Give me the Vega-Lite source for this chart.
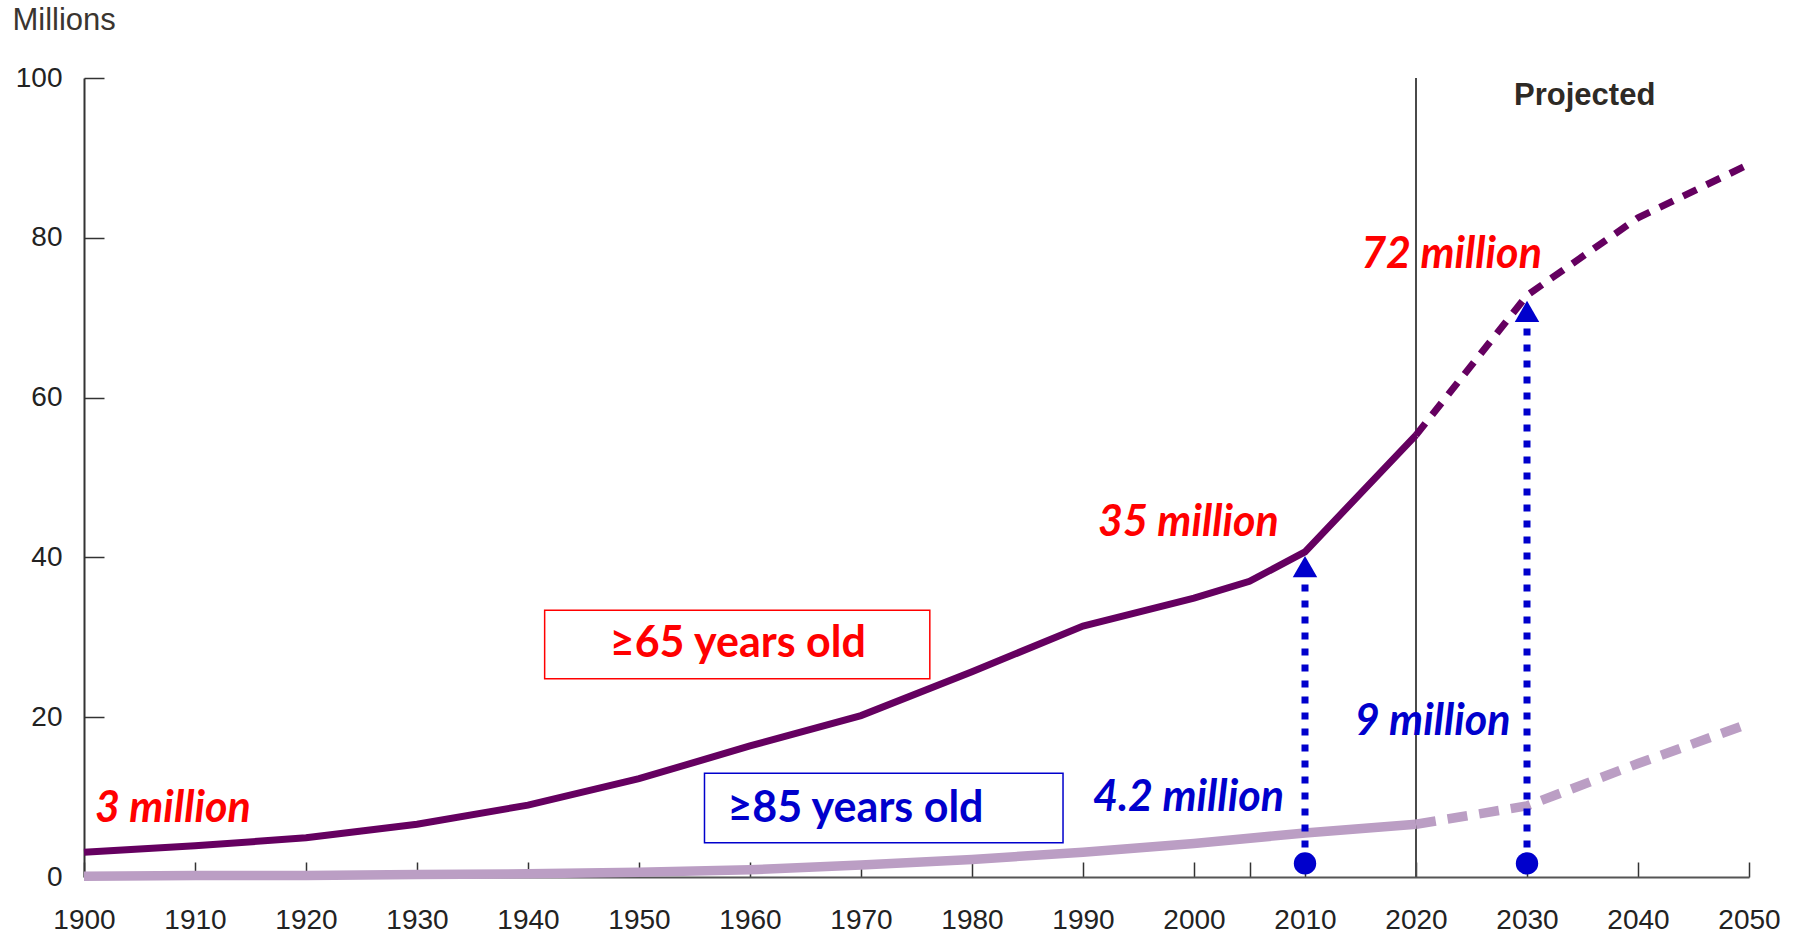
{
  "$schema": "https://vega.github.io/schema/vega-lite/v6.json",
  "width": 1665,
  "height": 799,
  "autosize": {"type": "none"},
  "padding": {"left": 84, "top": 78, "right": 55, "bottom": 57},
  "background": "white",
  "config": {"view": {"stroke": null}},
  "datasets": {
    "pop": [
      {"year": 1900, "age": "65+", "period": "hist", "value": 3.1},
      {"year": 1910, "age": "65+", "period": "hist", "value": 3.9},
      {"year": 1920, "age": "65+", "period": "hist", "value": 4.9},
      {"year": 1930, "age": "65+", "period": "hist", "value": 6.6},
      {"year": 1940, "age": "65+", "period": "hist", "value": 9.0},
      {"year": 1950, "age": "65+", "period": "hist", "value": 12.3},
      {"year": 1960, "age": "65+", "period": "hist", "value": 16.4},
      {"year": 1970, "age": "65+", "period": "hist", "value": 20.2},
      {"year": 1980, "age": "65+", "period": "hist", "value": 25.7},
      {"year": 1990, "age": "65+", "period": "hist", "value": 31.4},
      {"year": 2000, "age": "65+", "period": "hist", "value": 34.9},
      {"year": 2005, "age": "65+", "period": "hist", "value": 37.0},
      {"year": 2010, "age": "65+", "period": "hist", "value": 40.7},
      {"year": 2020, "age": "65+", "period": "hist", "value": 55.3},
      {"year": 2020, "age": "65+", "period": "proj", "value": 55.3},
      {"year": 2030, "age": "65+", "period": "proj", "value": 72.8},
      {"year": 2040, "age": "65+", "period": "proj", "value": 82.5},
      {"year": 2050, "age": "65+", "period": "proj", "value": 89.2},
      {"year": 1900, "age": "85+", "period": "hist", "value": 0.1},
      {"year": 1910, "age": "85+", "period": "hist", "value": 0.2},
      {"year": 1920, "age": "85+", "period": "hist", "value": 0.2},
      {"year": 1930, "age": "85+", "period": "hist", "value": 0.3},
      {"year": 1940, "age": "85+", "period": "hist", "value": 0.4},
      {"year": 1950, "age": "85+", "period": "hist", "value": 0.6},
      {"year": 1960, "age": "85+", "period": "hist", "value": 0.9},
      {"year": 1970, "age": "85+", "period": "hist", "value": 1.5},
      {"year": 1980, "age": "85+", "period": "hist", "value": 2.2},
      {"year": 1990, "age": "85+", "period": "hist", "value": 3.1},
      {"year": 2000, "age": "85+", "period": "hist", "value": 4.2},
      {"year": 2010, "age": "85+", "period": "hist", "value": 5.5},
      {"year": 2020, "age": "85+", "period": "hist", "value": 6.6},
      {"year": 2020, "age": "85+", "period": "proj", "value": 6.6},
      {"year": 2030, "age": "85+", "period": "proj", "value": 8.9},
      {"year": 2040, "age": "85+", "period": "proj", "value": 14.2},
      {"year": 2050, "age": "85+", "period": "proj", "value": 19.2}
    ],
    "arrows": [
      {"year": 2010, "from": 1.7, "to": 38.0, "head": 38.85},
      {"year": 2030, "from": 1.7, "to": 70.0, "head": 70.8}
    ],
    "boxes": [
      {"x1": 1941.5, "x2": 1976.2, "y1": 24.8, "y2": 33.4, "grp": "red"},
      {"x1": 1955.9, "x2": 1988.2, "y1": 4.3, "y2": 13.0, "grp": "blue"}
    ],
    "italics": [
      {"year": 1908.0, "value": 8.5, "text": "3 million", "grp": "red"},
      {"year": 1999.5, "value": 44.3, "text": "35 million", "grp": "red"},
      {"year": 2023.2, "value": 77.8, "text": "72 million", "grp": "red"},
      {"year": 1999.5, "value": 9.9, "text": "4.2 million", "grp": "blue"},
      {"year": 2021.5, "value": 19.4, "text": "9 million", "grp": "blue"}
    ],
    "boxlabels": [
      {"year": 1958.9, "value": 29.2, "text": "≥65 years old", "grp": "red"},
      {"year": 1969.5, "value": 8.5, "text": "≥85 years old", "grp": "blue"}
    ],
    "notes": [
      {"year": 2035.2, "value": 97.8, "text": "Projected"}
    ],
    "divider": [
      {"year": 2020, "lo": 0, "hi": 100}
    ]
  },
  "layer": [
    {
      "data": {"name": "divider"},
      "mark": {"type": "rule", "color": "#4a4a4a", "strokeWidth": 2},
      "encoding": {
        "x": {"field": "year", "type": "quantitative", "scale": {"domain": [1900, 2050], "nice": false, "zero": false},
          "axis": {
            "values": [1900, 1910, 1920, 1930, 1940, 1950, 1960, 1970, 1980, 1990, 2000, 2005, 2010, 2020, 2030, 2040, 2050],
            "format": "d",
            "labelExpr": "datum.value == 2005 ? '' : datum.label",
            "title": null,
            "grid": false,
            "tickSize": -15,
            "tickColor": "#333",
            "tickWidth": 1.5,
            "domainColor": "#555",
            "domainWidth": 2,
            "labelFont": "Liberation Sans",
            "labelFontSize": 28,
            "labelColor": "#222",
            "labelPadding": 44,
            "labelFlush": false,
            "labelOverlap": false
          }},
        "y": {"field": "lo", "type": "quantitative", "scale": {"domain": [0, 100], "nice": false},
          "axis": {
            "values": [0, 20, 40, 60, 80, 100],
            "title": "Millions",
            "titleAngle": 0,
            "titleAlign": "left",
            "titleBaseline": "middle",
            "titleX": -72,
            "titleY": -58,
            "titleFont": "Liberation Sans",
            "titleFontSize": 31,
            "titleFontWeight": "normal",
            "titleColor": "#3a3530",
            "grid": false,
            "tickSize": -20,
            "tickColor": "#333",
            "tickWidth": 1.5,
            "domainColor": "#333",
            "domainWidth": 2,
            "labelFont": "Liberation Sans",
            "labelFontSize": 28,
            "labelColor": "#222",
            "labelPadding": 42
          }},
        "y2": {"field": "hi"}
      }
    },
    {
      "data": {"name": "boxes"},
      "mark": {"type": "rect", "fill": "white", "strokeWidth": 1.5},
      "encoding": {
        "x": {"field": "x1", "type": "quantitative"},
        "x2": {"field": "x2"},
        "y": {"field": "y1", "type": "quantitative"},
        "y2": {"field": "y2"},
        "stroke": {"field": "grp", "type": "nominal", "scale": {"domain": ["red", "blue"], "range": ["#ff0000", "#0000cc"]}, "legend": null}
      }
    },
    {
      "data": {"name": "pop"},
      "transform": [{"filter": "datum.age == '85+' && datum.period == 'hist'"}],
      "mark": {"type": "line", "color": "#bb9ec4", "strokeWidth": 9.5, "strokeCap": "butt"},
      "encoding": {"x": {"field": "year", "type": "quantitative"}, "y": {"field": "value", "type": "quantitative"}}
    },
    {
      "data": {"name": "pop"},
      "transform": [{"filter": "datum.age == '85+' && datum.period == 'proj'"}],
      "mark": {"type": "line", "color": "#bb9ec4", "strokeWidth": 9.5, "strokeDash": [20, 12], "strokeCap": "butt"},
      "encoding": {"x": {"field": "year", "type": "quantitative"}, "y": {"field": "value", "type": "quantitative"}}
    },
    {
      "data": {"name": "pop"},
      "transform": [{"filter": "datum.age == '65+' && datum.period == 'hist'"}],
      "mark": {"type": "line", "color": "#650060", "strokeWidth": 7, "strokeCap": "butt"},
      "encoding": {"x": {"field": "year", "type": "quantitative"}, "y": {"field": "value", "type": "quantitative"}}
    },
    {
      "data": {"name": "pop"},
      "transform": [{"filter": "datum.age == '65+' && datum.period == 'proj'"}],
      "mark": {"type": "line", "color": "#650060", "strokeWidth": 7, "strokeDash": [15, 11], "strokeCap": "butt"},
      "encoding": {"x": {"field": "year", "type": "quantitative"}, "y": {"field": "value", "type": "quantitative"}}
    },
    {
      "data": {"name": "arrows"},
      "mark": {"type": "rule", "color": "#0000cc", "strokeWidth": 7, "strokeDash": [7, 9]},
      "encoding": {
        "x": {"field": "year", "type": "quantitative"},
        "y": {"field": "from", "type": "quantitative"},
        "y2": {"field": "to"}
      }
    },
    {
      "data": {"name": "arrows"},
      "mark": {"type": "point", "shape": "circle", "filled": true, "color": "#0000cc", "size": 500, "opacity": 1},
      "encoding": {
        "x": {"field": "year", "type": "quantitative"},
        "y": {"field": "from", "type": "quantitative"}
      }
    },
    {
      "data": {"name": "arrows"},
      "mark": {"type": "point", "shape": "triangle-up", "filled": true, "color": "#0000cc", "size": 600, "opacity": 1},
      "encoding": {
        "x": {"field": "year", "type": "quantitative"},
        "y": {"field": "head", "type": "quantitative"}
      }
    },
    {
      "data": {"name": "italics"},
      "mark": {"type": "text", "font": "Lato", "fontSize": 43, "fontWeight": "bold", "fontStyle": "italic", "align": "center", "baseline": "middle"},
      "encoding": {
        "x": {"field": "year", "type": "quantitative"},
        "y": {"field": "value", "type": "quantitative"},
        "text": {"field": "text"},
        "color": {"field": "grp", "type": "nominal", "scale": {"domain": ["red", "blue"], "range": ["#ff0000", "#0000cc"]}, "legend": null}
      }
    },
    {
      "data": {"name": "boxlabels"},
      "mark": {"type": "text", "font": "Lato", "fontSize": 43, "fontWeight": "bold", "align": "center", "baseline": "middle"},
      "encoding": {
        "x": {"field": "year", "type": "quantitative"},
        "y": {"field": "value", "type": "quantitative"},
        "text": {"field": "text"},
        "color": {"field": "grp", "type": "nominal", "scale": {"domain": ["red", "blue"], "range": ["#ff0000", "#0000cc"]}, "legend": null}
      }
    },
    {
      "data": {"name": "notes"},
      "mark": {"type": "text", "font": "Liberation Sans", "fontSize": 31, "fontWeight": "bold", "align": "center", "baseline": "middle", "color": "#2e2a25"},
      "encoding": {
        "x": {"field": "year", "type": "quantitative"},
        "y": {"field": "value", "type": "quantitative"},
        "text": {"field": "text"}
      }
    }
  ]
}
